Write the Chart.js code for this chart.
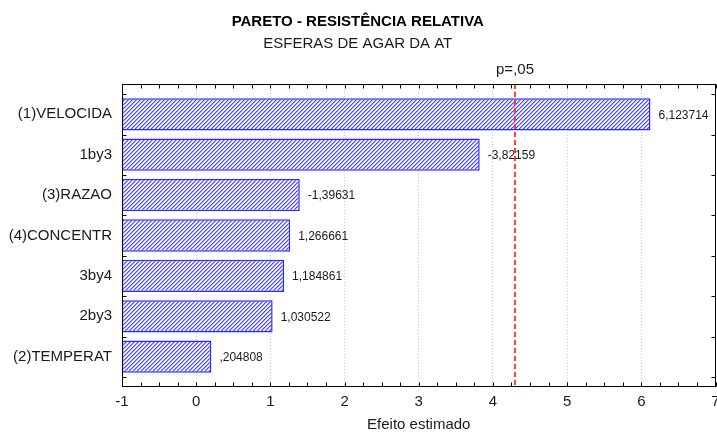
<!DOCTYPE html>
<html>
<head>
<meta charset="utf-8">
<script src="https://cdn.jsdelivr.net/npm/chart.js@4/dist/chart.umd.min.js"></script>
<style>
  html, body { margin: 0; padding: 0; background: #fff; }
  #wrap { width: 717px; height: 434px; }
</style>
</head>
<body>
<div id="wrap"><canvas id="chart-pareto" width="717" height="434"></canvas></div>
<script>
// Pareto chart data
const categories = ['(1)VELOCIDA', '1by3', '(3)RAZAO', '(4)CONCENTR', '3by4', '2by3', '(2)TEMPERAT'];
const effects = [6.123714, -3.82159, -1.39631, 1.266661, 1.184861, 1.030522, 0.204808];
const effectLabels = ['6,123714', '-3,82159', '-1,39631', '1,266661', '1,184861', '1,030522', ',204808'];
const xTicks = [-1, 0, 1, 2, 3, 4, 5, 6, 7];
const criticalValue = 4.303;
const criticalLabel = 'p=,05';

const FONT = "'Liberation Sans', Arial, sans-serif";
const TEXT = '#1a1a1a';

// Diagonal hatch pattern for the bars
function makeHatch() {
    const n = 4;
    const c = document.createElement('canvas');
    c.width = n;
    c.height = n;
    const g = c.getContext('2d');
    g.fillStyle = '#ffffff';
    g.fillRect(0, 0, n, n);
    for (let i = 0; i < n; i++) {
        g.fillStyle = '#4a4aff';
        g.fillRect(i, n - 1 - i, 1, 1);
        g.fillStyle = '#a0a0ff';
        g.fillRect((i + 1) % n, n - 1 - i, 1, 1);
        g.fillStyle = '#e6e6ff';
        g.fillRect((i + 3) % n, n - 1 - i, 1, 1);
    }
    return document.getElementById('chart-pareto').getContext('2d').createPattern(c, 'repeat');
}

// Frame, inward tick marks, critical line and value labels
const paretoDecor = {
    id: 'paretoDecor',
    afterDatasetsDraw(chart) {
        const ctx = chart.ctx;
        const x = chart.scales.x;
        const y = chart.scales.y;
        const a = chart.chartArea;

        // value labels at the end of each bar
        ctx.save();
        ctx.font = '12px ' + FONT;
        ctx.fillStyle = TEXT;
        ctx.textAlign = 'left';
        ctx.textBaseline = 'middle';
        effects.forEach((e, i) => {
            ctx.fillText(effectLabels[i], x.getPixelForValue(Math.abs(e)) + 8, y.getPixelForValue(i + 1) + 1);
        });
        ctx.restore();

        // critical value line
        const xc = Math.round(x.getPixelForValue(criticalValue));
        ctx.save();
        ctx.strokeStyle = '#ff2a2a';
        ctx.lineWidth = 1.8;
        ctx.setLineDash([5, 3]);
        ctx.beginPath();
        ctx.moveTo(xc, a.top);
        ctx.lineTo(xc, a.bottom);
        ctx.stroke();
        ctx.restore();

        ctx.save();
        ctx.font = '15px ' + FONT;
        ctx.fillStyle = TEXT;
        ctx.textAlign = 'center';
        ctx.textBaseline = 'middle';
        ctx.fillText(criticalLabel, xc, a.top - 14);
        ctx.restore();

        // frame
        const l = Math.round(a.left) + 0.5;
        const r = Math.round(a.right) - 0.5;
        const t = Math.round(a.top) + 0.5;
        const b = Math.round(a.bottom) - 0.5;
        ctx.save();
        ctx.strokeStyle = '#000';
        ctx.lineWidth = 1;
        ctx.strokeRect(l, t, r - l, b - t);

        // minor ticks on top and bottom every 0.25
        ctx.beginPath();
        for (let v = xTicks[0]; v <= xTicks[xTicks.length - 1] + 1e-9; v += 0.25) {
            const px = Math.round(x.getPixelForValue(v)) + 0.5;
            ctx.moveTo(px, t);
            ctx.lineTo(px, t + 4);
            ctx.moveTo(px, b);
            ctx.lineTo(px, b - 4);
        }
        // ticks on left and right between categories
        for (let k = 0; k <= categories.length; k++) {
            const py = Math.round(y.getPixelForValue(k + 0.5)) + 0.5;
            ctx.moveTo(l, py);
            ctx.lineTo(l + 4, py);
            ctx.moveTo(r, py);
            ctx.lineTo(r - 4, py);
        }
        ctx.stroke();
        ctx.restore();
    }
};

const canvas = document.getElementById('chart-pareto');
const hatch = makeHatch();

new Chart(canvas, {
    type: 'bar',
    data: {
        datasets: [{
            data: effects.map((e, i) => ({ x: [-1, Math.abs(e)], y: i + 1 })),
            backgroundColor: hatch,
            borderColor: '#2a2aff',
            borderWidth: 1.5,
            borderSkipped: false,
            categoryPercentage: 1,
            barPercentage: 0.8
        }]
    },
    options: {
        indexAxis: 'y',
        responsive: false,
        animation: false,
        layout: { autoPadding: false, padding: { left: 0, right: 1.5, top: 0, bottom: 0 } },
        scales: {
            x: {
                type: 'linear',
                min: xTicks[0],
                max: xTicks[xTicks.length - 1],
                offset: false,
                afterBuildTicks: s => { s.ticks = xTicks.map(v => ({ value: v })); },
                afterFit: s => { s.height = 47; s.paddingLeft = 0; s.paddingRight = 0; },
                grid: { color: '#c4c4c4', lineWidth: 1, drawTicks: false, offset: false },
                border: { display: false, dash: [1, 2] },
                ticks: {
                    padding: 6,
                    color: TEXT,
                    font: { family: FONT, size: 15 },
                    maxRotation: 0,
                    callback: v => String(v)
                },
                title: {
                    display: true,
                    text: 'Efeito estimado',
                    color: TEXT,
                    font: { family: FONT, size: 15 },
                    padding: { top: 0, bottom: 0 }
                }
            },
            y: {
                type: 'linear',
                reverse: true,
                offset: false,
                min: 0.25,
                max: categories.length + 0.75,
                afterBuildTicks: s => { s.ticks = categories.map((c, i) => ({ value: i + 1 })); },
                afterFit: s => { s.width = 122; s.paddingTop = 0; s.paddingBottom = 0; },
                grid: { display: false, drawTicks: false, offset: false },
                border: { display: false },
                ticks: {
                    padding: 10,
                    color: TEXT,
                    font: { family: FONT, size: 15 },
                    callback: v => categories[v - 1] || ''
                }
            }
        },
        plugins: {
            legend: { display: false },
            tooltip: { enabled: false },
            title: {
                display: true,
                text: 'PARETO - RESISTÊNCIA RELATIVA',
                color: '#000',
                font: { family: FONT, size: 15, weight: 'bold', lineHeight: 1.2 },
                padding: { top: 13, bottom: 4 }
            },
            subtitle: {
                display: true,
                text: 'ESFERAS DE AGAR DA AT',
                color: TEXT,
                font: { family: FONT, size: 15, weight: 'normal', lineHeight: 1.2 },
                padding: { top: 0, bottom: 31 }
            }
        }
    },
    plugins: [paretoDecor]
});
</script>
</body>
</html>
